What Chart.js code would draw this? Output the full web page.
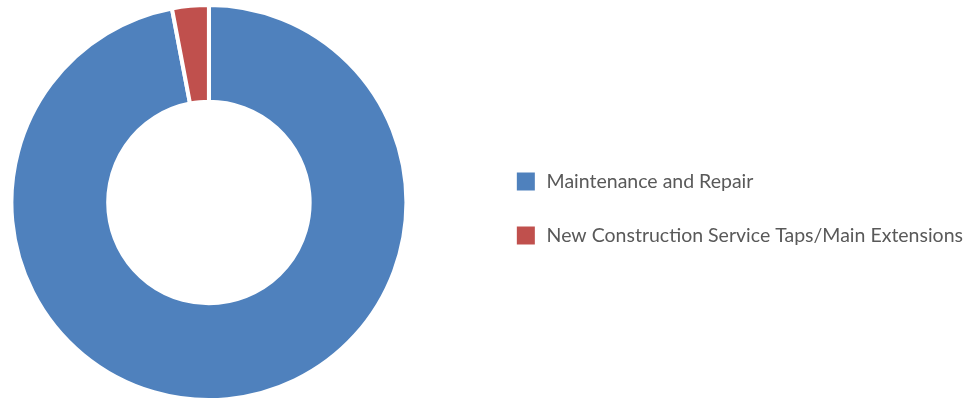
<!DOCTYPE html>
<html>
<head>
<meta charset="utf-8">
<script src="https://cdn.jsdelivr.net/npm/chart.js@4.4.0/dist/chart.umd.min.js"></script>
<style>
  html, body { margin: 0; padding: 0; background: #fff; overflow: hidden; }
  /* canvas runs a bit past both edges so the ring sits left and the legend right */
  #wrap { position: absolute; left: -65px; top: 0; width: 1038px; height: 402px; }
</style>
</head>
<body>
<div id="wrap"><canvas id="doughnut"></canvas></div>
<script>
const categories = ["Maintenance and Repair", "New Construction Service Taps/Main Extensions"];
const values = [97, 3];
const colors = ["#4F81BD", "#C0504D"];

// keep the legend a little lower than the ring centre
const legendNudge = {
  id: 'legendNudge',
  afterLayout(chart) {
    chart.legend.top += 6;
    chart.legend.bottom += 6;
  }
};

new Chart(document.getElementById("doughnut"), {
  type: 'doughnut',
  data: {
    labels: categories,
    datasets: [{
      data: values,
      backgroundColor: colors,
      borderColor: '#ffffff',
      borderWidth: 4
    }]
  },
  options: {
    responsive: true,
    maintainAspectRatio: false,
    animation: false,
    cutout: '51%',
    layout: { padding: { left: 0, right: 0, top: 3, bottom: 0 } },
    plugins: {
      tooltip: { enabled: false },
      legend: {
        position: 'right',
        labels: {
          boxWidth: 22,
          boxHeight: 22,
          padding: 32,
          color: '#595959',
          font: { family: 'Lato', size: 19.5 }
        }
      }
    }
  },
  plugins: [legendNudge]
});
</script>
</body>
</html>
